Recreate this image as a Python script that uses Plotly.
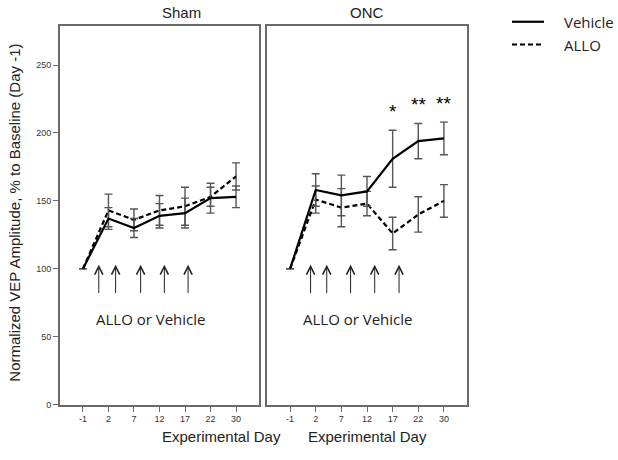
import plotly.graph_objects as go
from plotly.subplots import make_subplots

days = ['-1', '2', '7', '12', '17', '22', '30']

sham_vehicle = [100, 137, 130, 139, 141, 152, 153]
sham_vehicle_err = [0, 8, 7, 9, 11, 11, 8]
sham_allo = [100, 143, 136, 143, 146, 153, 168]
sham_allo_err = [0, 12, 8, 11, 14, 7, 10]

onc_vehicle = [100, 158, 154, 157, 181, 194, 196]
onc_vehicle_err = [0, 12, 15, 11, 21, 13, 12]
onc_allo = [100, 151, 145, 148, 126, 140, 150]
onc_allo_err = [0, 10, 14, 9, 12, 13, 12]
onc_signif = ['', '', '', '', '*', '**', '**']

y_ticks = [0, 50, 100, 150, 200, 250]

# treatment arrows (category-index positions) per panel
sham_arrows = [0.62, 1.28, 2.26, 3.19, 4.12]
onc_arrows = [0.8, 1.43, 2.36, 3.3, 4.25]

DASH = '5px,3px'

fig = make_subplots(rows=1, cols=2, shared_yaxes=False)

panels = [
    (1, sham_vehicle, sham_vehicle_err, sham_allo, sham_allo_err),
    (2, onc_vehicle, onc_vehicle_err, onc_allo, onc_allo_err),
]
for col, veh, veh_err, allo, allo_err in panels:
    for vals, errs, dash in [(allo, allo_err, DASH), (veh, veh_err, 'solid')]:
        fig.add_trace(go.Scatter(
            x=days, y=vals, mode='lines',
            line=dict(color='black', width=2.2, dash=dash),
            error_y=dict(type='data', array=errs, color='#555', thickness=1.4, width=4),
            showlegend=False,
        ), row=1, col=col)

axis_common = dict(showline=True, mirror=True, linecolor='#6a6a6a', linewidth=2,
                   showgrid=False, zeroline=False)
fig.update_xaxes(type='category', range=[-0.9, 6.9], ticks='outside', ticklen=5,
                 tickcolor='#6a6a6a', tickfont=dict(family='Arial', size=9, color='#333'),
                 **axis_common)
fig.update_yaxes(range=[0, 279], **axis_common)
fig.update_yaxes(tickvals=y_ticks, ticks='outside', ticklen=5, tickcolor='#6a6a6a',
                 tickfont=dict(family='Arial', size=9, color='#333'), row=1, col=1)
fig.update_yaxes(showticklabels=False, ticks='', row=1, col=2)

fig.update_layout(
    xaxis=dict(domain=[60 / 618, 259 / 618]),
    xaxis2=dict(domain=[267 / 618, 467 / 618]),
    yaxis=dict(domain=[51 / 460, 434 / 460]),
    yaxis2=dict(domain=[51 / 460, 434 / 460]),
    width=618, height=460,
    margin=dict(l=0, r=0, t=0, b=0),
    paper_bgcolor='white', plot_bgcolor='white',
    showlegend=False,
)

label_font = dict(family='Open Sans', size=15, color='#222')
for xref, yref, arrows in [('x', 'y', sham_arrows), ('x2', 'y2', onc_arrows)]:
    for ax_pos in arrows:
        fig.add_annotation(x=ax_pos, y=103, ax=ax_pos, ay=81, xref=xref, yref=yref,
                           axref=xref, ayref=yref, text='', showarrow=True,
                           arrowhead=5, arrowsize=1.6, arrowwidth=1, arrowcolor='#222')
    fig.add_annotation(x=2.65, y=63, xref=xref, yref=yref, text='ALLO or Vehicle',
                       showarrow=False, font=label_font)

# significance stars above the ONC vehicle error bars
for i, s in enumerate(onc_signif):
    if s:
        fig.add_annotation(x=i, y=onc_vehicle[i] + onc_vehicle_err[i] + 14, xref='x2', yref='y2',
                           text=s, showarrow=False,
                           font=dict(family='Arial', size=19, color='black'))


def paper_text(px, py, text, font, **kw):
    fig.add_annotation(x=px / 618, y=1 - py / 460, xref='paper', yref='paper', text=text,
                       showarrow=False, yanchor='middle', font=font, **kw)


# panel titles and axis titles
title_font = dict(family='Arial', size=15, color='#222')
paper_text(159.5, 13, 'Sham', title_font)
paper_text(367, 13, 'ONC', title_font)
for cx in [159.5, 367]:
    paper_text(cx, 441, 'Experimental Day', title_font)
paper_text(15, 215, 'Normalized VEP Amplitude, % to Baseline (Day -1)', title_font,
           textangle=-90, xanchor='center')

# legend drawn by hand
for ly, dash, name in [(22, 'solid', 'Vehicle'), (45, DASH, 'ALLO')]:
    fig.add_shape(type='line', xref='paper', yref='paper', x0=512 / 618, x1=544 / 618,
                  y0=1 - ly / 460, y1=1 - ly / 460,
                  line=dict(color='black', width=2.2, dash=dash))
    paper_text(562, ly, name, label_font, xanchor='left')

fig.write_html("out.html", config={'displayModeBar': False},
               post_script="document.body.style.margin='0';")
